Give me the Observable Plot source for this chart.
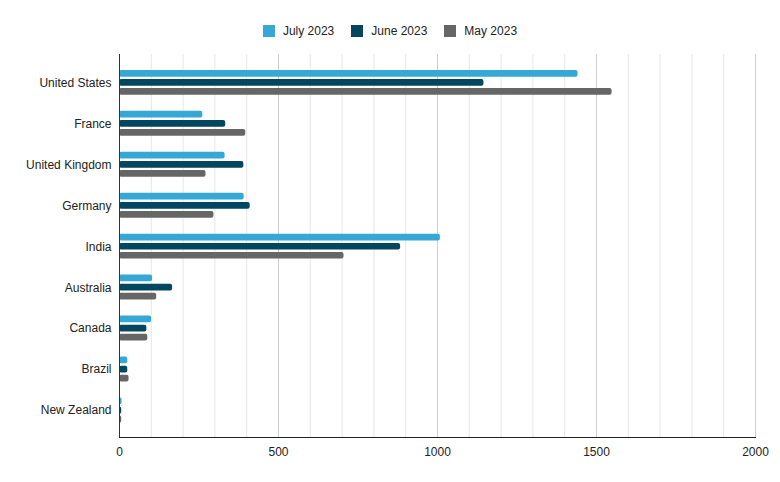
<!DOCTYPE html>
<html>
<head>
<meta charset="utf-8">
<script src="https://cdn.jsdelivr.net/npm/d3@7"></script>
<script src="https://cdn.jsdelivr.net/npm/@observablehq/plot@0.6"></script>
<style>
  html, body { margin: 0; padding: 0; background: #fff; }
  body { width: 780px; height: 482px; overflow: hidden; font-family: "Liberation Sans", Arial, sans-serif; }
  #legend { height: 46px; display: flex; justify-content: center; align-items: center; padding-top: 16px; box-sizing: border-box; font-size: 12px; color: #222; }
  .item { display: flex; align-items: center; margin: 0 8.5px; }
  .sw { width: 12px; height: 12px; margin-right: 8px; }
  svg { display: block; }
</style>
</head>
<body>
<div id="legend"></div>
<div id="chart"></div>
<script>
const countries = ["United States", "France", "United Kingdom", "Germany", "India", "Australia", "Canada", "Brazil", "New Zealand"];
const series = ["July 2023", "June 2023", "May 2023"];
const colors = ["#35a8d5", "#03465f", "#666666"];
const july = [1442, 262, 332, 392, 1009, 104, 101, 26, 8];
const june = [1146, 334, 391, 411, 884, 167, 86, 26, 7];
const may = [1549, 397, 272, 297, 706, 117, 89, 30, 7];
const xTicks = [0, 500, 1000, 1500, 2000];
const minorGrid = [100, 200, 300, 400, 600, 700, 800, 900, 1100, 1200, 1300, 1400, 1600, 1700, 1800, 1900];
const majorGrid = [500, 1000, 1500, 2000];

const valuesBySeries = [july, june, may];
const offsets = [-9.2, 0, 9];

const legend = document.getElementById("legend");
series.forEach((s, i) => {
  const it = document.createElement("div");
  it.className = "item";
  it.innerHTML = `<div class="sw" style="background:${colors[i]}"></div><span>${s}</span>`;
  legend.appendChild(it);
});

const barMarks = series.map((s, i) => {
  const rows = countries.map((c, j) => ({country: c, value: valuesBySeries[i][j]}));
  return Plot.barX(rows, {
    x: "value", y: "country", fill: colors[i],
    insetTop: 17.1, insetBottom: 17.1, dy: offsets[i], rx: 2
  });
});

const chart = Plot.plot({
  width: 780,
  height: 436,
  marginTop: 8,
  marginBottom: 45,
  marginLeft: 119,
  marginRight: 25,
  style: {fontFamily: "'Liberation Sans', Arial, sans-serif", fontSize: "12px", color: "#222", background: "#fff"},
  x: {domain: [0, 2000], ticks: xTicks, tickSize: 0, tickPadding: 10, line: true, label: null, tickFormat: d => String(d)},
  y: {domain: countries, padding: 0, round: false, insetTop: 8, insetBottom: 6.5, tickSize: 0, tickPadding: 8, label: null},
  marks: [
    Plot.ruleX(minorGrid, {stroke: "#e6e6e6"}),
    Plot.ruleX(majorGrid, {stroke: "#cfcfcf"}),
    ...barMarks,
    Plot.ruleX([0], {stroke: "#333"})
  ]
});
document.getElementById("chart").appendChild(chart);
</script>
</body>
</html>
